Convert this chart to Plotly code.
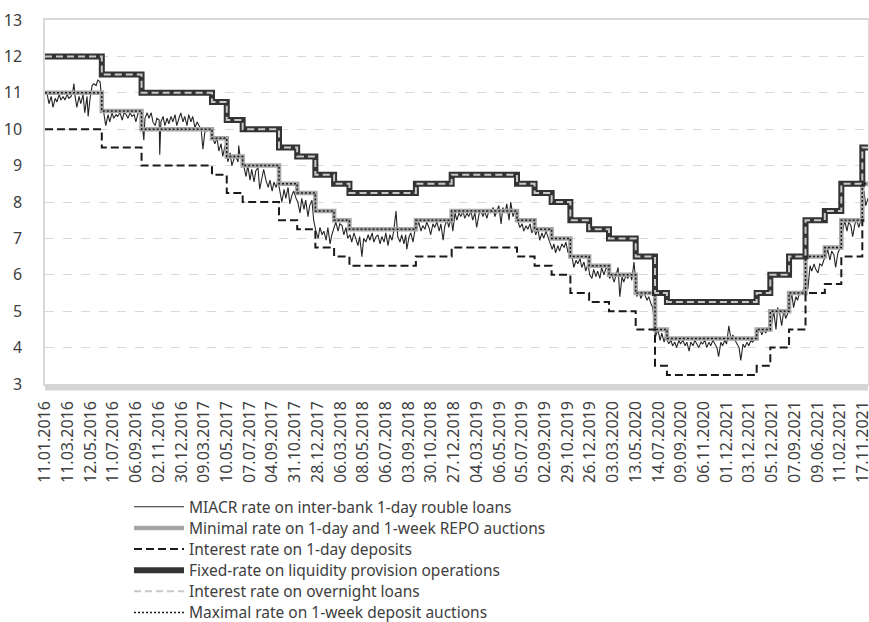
import plotly.graph_objects as go

# ---------------- data ----------------
# x = observation (trading-day) number on the category axis
TICK_TEXT = ["11.01.2016", "11.03.2016", "12.05.2016", "11.07.2016", "06.09.2016", "02.11.2016",
             "30.12.2016", "09.03.2017", "10.05.2017", "07.07.2017", "04.09.2017", "31.10.2017",
             "28.12.2017", "06.03.2018", "08.05.2018", "06.07.2018", "03.09.2018", "30.10.2018",
             "27.12.2018", "04.03.2019", "06.05.2019", "05.07.2019", "02.09.2019", "29.10.2019",
             "26.12.2019", "03.03.2020", "13.05.2020", "14.07.2020", "09.09.2020", "06.11.2020",
             "01.12.2021", "03.12.2021", "05.12.2021", "07.09.2021", "09.06.2021", "11.02.2021",
             "17.11.2021"]
TICK_DAY = [i * 40 for i in range(len(TICK_TEXT))]
LAST_DAY = 1449

# policy-rate change points (observation numbers) and the levels in force from them
CHANGE_DAY = [0, 100, 170, 294, 320, 348, 412, 444, 476, 509, 536, 653, 716, 831, 862, 892, 925,
              958, 993, 1040, 1074, 1095, 1253, 1277, 1310, 1339, 1373, 1402, 1439, LAST_DAY]
REPO_MIN = [11.0, 10.5, 10.0, 9.75, 9.25, 9.0, 8.5, 8.25, 7.75, 7.5, 7.25, 7.5, 7.75, 7.5, 7.25,
            7.0, 6.5, 6.25, 6.0, 5.5, 4.5, 4.25, 4.5, 5.0, 5.5, 6.5, 6.75, 7.5, 8.5, 8.5]
DEPOSIT_AUCTION_MAX = [11.0, 10.5, 10.0, 9.75, 9.25, 9.0, 8.5, 8.25, 7.75, 7.5, 7.25, 7.5, 7.75, 7.5,
                       7.25, 7.0, 6.5, 6.25, 6.0, 5.5, 4.5, 4.25, 4.5, 5.0, 5.5, 6.5, 6.75, 7.5, 8.5, 8.5]
DEPOSIT_1D = [10.0, 9.5, 9.0, 8.75, 8.25, 8.0, 7.5, 7.25, 6.75, 6.5, 6.25, 6.5, 6.75, 6.5, 6.25,
              6.0, 5.5, 5.25, 5.0, 4.5, 3.5, 3.25, 3.5, 4.0, 4.5, 5.5, 5.75, 6.5, 7.5, 7.5]
FIXED_RATE = [12.0, 11.5, 11.0, 10.75, 10.25, 10.0, 9.5, 9.25, 8.75, 8.5, 8.25, 8.5, 8.75, 8.5, 8.25,
              8.0, 7.5, 7.25, 7.0, 6.5, 5.5, 5.25, 5.5, 6.0, 6.5, 7.5, 7.75, 8.5, 9.5, 9.5]
OVERNIGHT = [12.0, 11.5, 11.0, 10.75, 10.25, 10.0, 9.5, 9.25, 8.75, 8.5, 8.25, 8.5, 8.75, 8.5, 8.25,
             8.0, 7.5, 7.25, 7.0, 6.5, 5.5, 5.25, 5.5, 6.0, 6.5, 7.5, 7.75, 8.5, 9.5, 9.5]

MIACR_DAY = [0, 4, 7, 11, 14, 18, 21, 25, 28, 32, 35, 39, 42, 46, 49, 51, 53, 56, 60, 63, 67, 70, 74, 76,
             79, 83, 86, 90, 93, 97, 100,
             104, 107, 111, 114, 118, 121, 125, 128, 132, 136, 139, 143, 146, 150, 153, 157, 160, 164, 167, 169,
             172, 174, 176, 180, 183, 187, 190, 194, 197, 201, 202, 204, 208, 211, 215, 218, 222, 225, 229, 232,
             236, 239, 243, 246, 250, 253, 257, 260, 264, 268, 271, 275, 278, 282, 285, 289, 292,
             296, 299, 303, 306, 310, 313, 317, 319,
             322, 326, 329, 333, 336, 340, 341, 343, 347,
             350, 354, 357, 361, 364, 368, 371, 375, 378, 382, 385, 389, 393, 396, 400, 403, 407, 410,
             414, 417, 421, 424, 428, 431, 435, 438, 442,
             445, 449, 452, 456, 459, 463, 466, 470, 473,
             477, 481, 484, 488, 491, 495, 498, 502, 505,
             509, 512, 516, 519, 523, 526, 530, 533,
             537, 540, 544, 547, 551, 554, 558, 561, 565, 569, 572, 576, 579, 583, 586, 590, 593, 597, 600,
             604, 607, 611, 614, 618, 621, 625, 628, 632, 635, 637, 641, 644, 648, 651,
             655, 658, 662, 665, 669, 672, 676, 679, 683, 686, 690, 694, 697, 701, 704, 708, 711, 715,
             718, 722, 725, 729, 732, 736, 739, 743, 746, 750, 753, 757, 760, 764, 767, 771, 774, 778, 782,
             785, 789, 792, 796, 799, 803, 806, 810, 813, 817, 820, 824, 827,
             833, 836, 840, 843, 847, 850, 854, 857, 861,
             864, 868, 871, 875, 878, 882, 885, 889,
             893, 896, 899, 903, 906, 910, 914, 917, 921, 924,
             928, 931, 935, 938, 942, 945, 949, 952, 956,
             959, 963, 966, 970, 973, 977, 980, 984, 987, 991,
             994, 998, 1002, 1005, 1009, 1012, 1016, 1019, 1023, 1026, 1030, 1033, 1037, 1039,
             1042, 1046, 1049, 1053, 1056, 1060, 1063, 1067, 1070, 1072,
             1075, 1079, 1083, 1086, 1090, 1093,
             1098, 1102, 1105, 1109, 1112, 1116, 1119, 1123, 1127, 1130, 1134, 1137, 1141, 1144, 1148, 1151,
             1155, 1158, 1162, 1165, 1169, 1172, 1176, 1179, 1183, 1186, 1190, 1193, 1197, 1200, 1204, 1208,
             1211, 1215, 1218, 1222, 1225, 1229, 1232, 1236, 1239, 1243, 1246, 1250,
             1255, 1259, 1262, 1266, 1269, 1273, 1276,
             1280, 1283, 1287, 1290, 1294, 1297, 1301, 1304, 1308,
             1311, 1315, 1318, 1322, 1325, 1329, 1332, 1336, 1338,
             1340, 1343, 1347, 1350, 1354, 1357, 1361, 1364, 1368, 1371,
             1375, 1378, 1382, 1385, 1389, 1392, 1396, 1399,
             1405, 1408, 1412, 1415, 1419, 1422, 1426, 1429, 1433, 1436, 1438,
             1442, 1445, 1449]
MIACR_RATE = [11.0, 10.95, 10.7, 10.9, 10.6, 10.85, 10.75, 10.95, 10.8, 10.9, 10.8, 10.95, 10.85, 10.9,
              11.05, 11.25, 10.9, 10.6, 10.9, 10.7, 10.95, 10.45, 10.9, 10.35, 10.8, 11.2, 11.25, 11.2,
              11.35, 11.3, 10.8,
              10.35, 10.1, 10.4, 10.2, 10.45, 10.3, 10.4, 10.35, 10.45, 10.25, 10.45, 10.4, 10.3, 10.45,
              10.35, 10.4, 10.2, 10.45, 10.5, 10.55,
              10.0, 9.7, 10.3, 10.45, 10.3, 10.45, 10.2, 10.1, 10.3, 10.25, 9.3, 10.2, 10.35, 10.1, 10.3,
              10.15, 10.35, 10.2, 10.4, 10.1, 10.3, 10.45, 10.2, 10.35, 10.1, 10.4, 10.2, 10.35, 10.05,
              10.2, 10.1, 10.0, 9.45, 10.0, 9.95, 10.0, 9.9,
              9.7, 9.6, 9.75, 9.4, 9.6, 9.25, 9.55, 9.5,
              9.1, 9.35, 9.0, 9.2, 9.25, 9.1, 9.55, 9.3, 9.2,
              8.95, 8.7, 9.0, 8.6, 8.9, 8.55, 8.85, 8.95, 8.35, 8.7, 8.9, 8.6, 8.4, 8.6, 8.3, 8.55, 8.4, 8.6,
              8.3, 8.0, 8.35, 8.1, 8.4, 7.95, 8.2, 8.3, 8.1,
              8.0, 7.7, 8.1, 7.8, 8.05, 7.6, 7.9, 8.05, 7.5,
              7.2, 7.0, 7.3, 7.1, 7.2, 6.95, 7.3, 6.85, 7.1,
              7.3, 7.45, 7.2, 7.4, 7.35, 7.1, 7.3, 7.0,
              7.1, 6.9, 7.15, 7.0, 6.8, 7.05, 6.5, 7.0, 6.9, 7.1, 6.95, 7.15, 6.9, 7.05, 7.1, 6.85, 7.05,
              6.9, 7.15, 6.8, 7.1, 6.95, 7.2, 7.75, 7.05, 6.9, 7.1, 6.85, 7.1, 6.7, 7.05, 7.15, 6.9, 7.2,
              7.3, 7.45, 7.2, 7.35, 7.25, 7.45, 7.3, 7.1, 7.4, 7.3, 7.45, 7.2, 7.4, 6.95, 7.35, 7.5, 7.3, 7.6,
              7.2, 7.7, 7.5, 7.7, 7.6, 7.75, 7.55, 7.7, 7.6, 7.75, 7.5, 7.7, 7.3, 7.65, 7.8, 7.6, 7.75, 7.55,
              7.8, 7.7, 7.85, 7.6, 7.8, 7.9, 7.4, 7.85, 7.7, 7.95, 7.5, 8.0, 7.6, 7.75,
              7.45, 7.3, 7.4, 7.2, 7.35, 7.25, 7.4, 7.15, 7.3,
              7.1, 7.25, 6.95, 7.15, 7.0, 7.2, 7.05, 6.9,
              6.7, 6.85, 6.6, 6.8, 6.65, 6.85, 6.75, 6.9, 6.6, 6.75,
              6.5, 6.2, 6.4, 6.3, 6.45, 6.2, 6.35, 6.1, 6.3,
              6.0, 5.9, 6.15, 5.95, 6.1, 5.9, 6.2, 6.0, 6.15, 6.25,
              5.9, 6.0, 5.8, 5.95, 6.2, 5.4, 5.95, 5.8, 6.0, 5.9, 6.05, 5.85, 6.35, 6.0,
              5.4, 5.55, 5.35, 5.5, 5.45, 5.3, 5.4, 5.2, 5.1, 4.8,
              4.3, 4.5, 4.2, 4.4, 4.15, 4.35,
              4.1, 4.2, 4.05, 4.15, 4.0, 4.2, 4.1, 4.2, 4.05, 4.15, 3.9, 4.15, 4.05, 4.2, 4.1, 4.0,
              4.15, 4.1, 4.2, 4.0, 4.15, 4.05, 4.2, 4.1, 4.0, 3.75, 4.15, 4.05, 4.2, 4.1, 4.6, 4.2,
              4.35, 4.2, 4.1, 4.0, 3.65, 4.1, 4.0, 4.15, 4.05, 4.2, 4.15, 4.25,
              4.4, 4.5, 4.35, 4.5, 4.4, 4.55, 4.45,
              4.7, 5.0, 4.5, 5.1, 4.9, 4.6, 5.05, 4.8, 4.95,
              5.2, 5.45, 5.1, 5.4, 5.3, 5.55, 5.5, 5.6, 5.9,
              6.0, 5.6, 6.25, 6.1, 6.3, 6.15, 6.05, 6.3, 6.25, 6.4,
              6.5, 6.7, 6.4, 6.65, 6.55, 6.2, 6.6, 6.7,
              7.3, 7.5, 7.2, 7.45, 7.35, 7.05, 7.4, 7.5, 7.3, 7.45, 7.6,
              8.3, 7.9, 8.1]

NAMES = ["MIACR rate on inter-bank 1-day rouble loans",
         "Minimal rate on 1-day and 1-week REPO auctions",
         "Interest rate on 1-day deposits",
         "Fixed-rate on liquidity provision operations",
         "Interest rate on overnight loans",
         "Maximal rate on 1-week deposit auctions"]

FONT = "'Noto Sans', 'Open Sans', sans-serif"
TEXT_COLOR = "#404040"

# ---------------- geometry (pixels) ----------------
W, H = 869, 622
M_L, M_R, M_T, M_B = 45, 1, 19.5, 237.5
PLOT_H = H - M_T - M_B
PLOT_W = W - M_L - M_R


def paper_y(px):
    return 1 - (px - M_T) / PLOT_H


def paper_x(px):
    return (px - M_L) / PLOT_W


LEGEND_KEYS = ["legend", "legend2", "legend3", "legend4", "legend5", "legend6"]

# ---------------- figure ----------------
fig = go.Figure()
fig.add_trace(go.Scatter(x=MIACR_DAY, y=MIACR_RATE, mode="lines", name=NAMES[0], legend=LEGEND_KEYS[0],
                         line=dict(color="#262626", width=1.1)))
fig.add_trace(go.Scatter(x=CHANGE_DAY, y=REPO_MIN, mode="lines", name=NAMES[1], legend=LEGEND_KEYS[1],
                         line=dict(color="#a6a6a6", width=4.5, shape="hv")))
fig.add_trace(go.Scatter(x=CHANGE_DAY, y=DEPOSIT_1D, mode="lines", name=NAMES[2], legend=LEGEND_KEYS[2],
                         line=dict(color="#1a1a1a", width=2, shape="hv", dash="8px,4px")))
fig.add_trace(go.Scatter(x=CHANGE_DAY, y=FIXED_RATE, mode="lines", name=NAMES[3], legend=LEGEND_KEYS[3],
                         line=dict(color="#333333", width=6, shape="hv")))
fig.add_trace(go.Scatter(x=CHANGE_DAY, y=OVERNIGHT, mode="lines", name=NAMES[4], legend=LEGEND_KEYS[4],
                         line=dict(color="#c8c8c8", width=2, shape="hv", dash="7px,4px")))
fig.add_trace(go.Scatter(x=CHANGE_DAY, y=DEPOSIT_AUCTION_MAX, mode="lines", name=NAMES[5], legend=LEGEND_KEYS[5],
                         line=dict(color="#1a1a1a", width=1.5, shape="hv", dash="2px,2px")))

legend_layout = {}
for k, key in enumerate(LEGEND_KEYS):
    legend_layout[key] = dict(orientation="v", x=paper_x(129), y=paper_y(508 + k * 21.2),
                              xanchor="left", yanchor="middle",
                              font=dict(family=FONT, size=15.5, color=TEXT_COLOR),
                              bgcolor="rgba(0,0,0,0)", itemwidth=50, borderwidth=0)

fig.update_layout(
    width=W, height=H,
    margin=dict(l=M_L, r=M_R, t=M_T, b=M_B, autoexpand=False),
    paper_bgcolor="white", plot_bgcolor="white",
    font=dict(family=FONT, size=16, color=TEXT_COLOR),
    showlegend=True,
    shapes=[dict(type="rect", xref="paper", yref="paper", x0=0, x1=1, y0=-6.5 / PLOT_H, y1=0,
                 fillcolor="#d4d4d4", line=dict(width=0), layer="above")],
    **legend_layout,
)
fig.update_xaxes(range=[0, LAST_DAY], tickmode="array", tickvals=TICK_DAY, ticktext=TICK_TEXT,
                 tickangle=-90, showgrid=False, zeroline=False, ticks="", automargin=False,
                 showline=True, linecolor="#d9d9d9", linewidth=1.5, mirror=True,
                 ticklabelstandoff=9, ticklabeloverflow="allow",
                 tickfont=dict(family=FONT, size=16, color=TEXT_COLOR))
fig.update_yaxes(range=[3, 13], dtick=1, tick0=3, showgrid=True, gridcolor="#d9d9d9", gridwidth=1,
                 griddash="dash", zeroline=False, ticks="", automargin=False,
                 showline=True, linecolor="#d9d9d9", linewidth=1.5, mirror=True,
                 ticklabelstandoff=18, tickfont=dict(family=FONT, size=16, color=TEXT_COLOR))

# the page body has a default 8px margin; remove it so the figure sits at the window origin
fig.write_html("out.html", config={"displayModeBar": False},
               post_script="document.body.style.margin='0px';document.body.style.overflow='hidden';")
